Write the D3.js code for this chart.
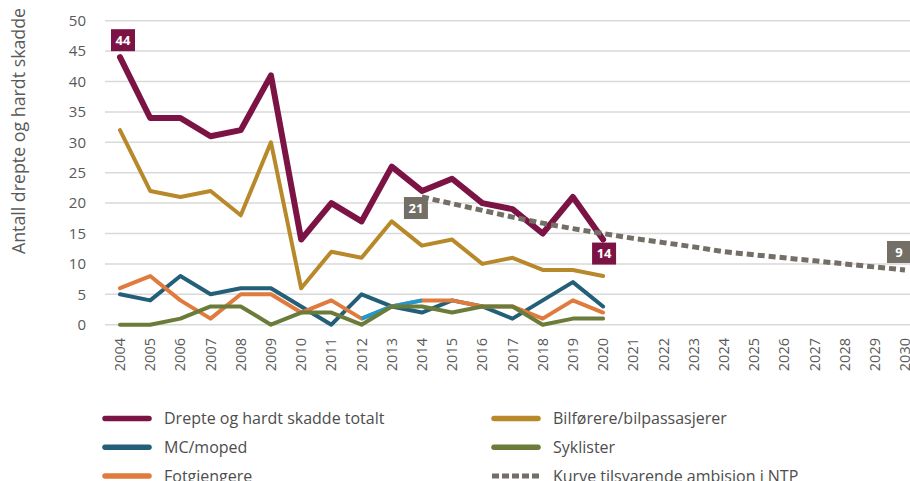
<!DOCTYPE html>
<html>
<head>
<meta charset="utf-8">
<script src="https://cdn.jsdelivr.net/npm/d3@7"></script>
<style>
  body { margin: 0; background: #fff; }
  svg { display: block; font-family: "Open Sans", sans-serif; }
  .grid line { stroke: #d9d9d9; stroke-width: 1.5; }
</style>
</head>
<body>
<svg width="910" height="481"></svg>
<script>
var years = d3.range(2004, 2031);
var dataYears = d3.range(2004, 2021);
var yTicks = [0, 5, 10, 15, 20, 25, 30, 35, 40, 45, 50];

var totalt      = [44, 34, 34, 31, 32, 41, 14, 20, 17, 26, 22, 24, 20, 19, 15, 21, 14];
var bilforere   = [32, 22, 21, 22, 18, 30, 6, 12, 11, 17, 13, 14, 10, 11, 9, 9, 8];
var mcMoped     = [5, 4, 8, 5, 6, 6, 3, 0, 5, 3, 2, 4, 3, 1, 4, 7, 3];
var syklister   = [0, 0, 1, 3, 3, 0, 2, 2, 0, 3, 3, 2, 3, 3, 0, 1, 1];
var fotgjengere = [6, 8, 4, 1, 5, 5, 2, 4, 1, 3, 4, 4, 3, 3, 1, 4, 2];
var fotgjBlaaAar = [2012, 2013, 2014];

var ntpYears = d3.range(2014, 2031);
var ntpKurve = [21, 19.9, 18.8, 17.7, 16.7, 15.8, 15.0, 14.2, 13.5, 12.8, 12.0, 11.5, 11.0, 10.5, 10.0, 9.5, 9.0];

var svg = d3.select("svg");

var x = d3.scalePoint().domain(years).range([120, 905]);
var y = d3.scaleLinear().domain([0, 50]).range([324.7, 20.7]);

// grid + y ticks
var gy = svg.append("g").attr("class", "grid");
gy.selectAll("line").data(yTicks).enter().append("line")
    .attr("x1", 105).attr("x2", 910)
    .attr("y1", function(d) { return y(d); })
    .attr("y2", function(d) { return y(d); });

svg.append("g").selectAll("text").data(yTicks).enter().append("text")
    .attr("x", 86)
    .attr("y", function(d) { return y(d); })
    .attr("dy", "0.35em")
    .attr("text-anchor", "end")
    .attr("fill", "#595959")
    .style("font-size", "15px")
    .text(function(d) { return d; });

// x tick labels, rotated
svg.append("g").selectAll("text").data(years).enter().append("text")
    .attr("transform", function(d) { return "translate(" + x(d) + ",338) rotate(-90)"; })
    .attr("dy", "0.35em")
    .attr("text-anchor", "end")
    .attr("fill", "#595959")
    .style("font-size", "14.5px")
    .text(function(d) { return d; });

svg.append("text")
    .attr("transform", "translate(19,131) rotate(-90)")
    .attr("dy", "0.35em")
    .attr("text-anchor", "middle")
    .attr("fill", "#595959")
    .style("font-size", "17.8px")
    .text("Antall drepte og hardt skadde");

function lineFor(xs) {
  return d3.line()
    .x(function(d, i) { return x(xs[i]); })
    .y(function(d) { return y(d); });
}

var series = [
  {name: "Bilførere/bilpassasjerer", values: bilforere, color: "#b8892b", width: 4},
  {name: "MC/moped", values: mcMoped, color: "#235f78", width: 4},
  {name: "Fotgjengere", values: fotgjengere, color: "#e07b3d", width: 4},
  {name: "Syklister", values: syklister, color: "#6b7b39", width: 4},
  {name: "Drepte og hardt skadde totalt", values: totalt, color: "#7c1345", width: 6}
];

series.forEach(function(s) {
  svg.append("path")
    .datum(s.values)
    .attr("fill", "none")
    .attr("stroke", s.color)
    .attr("stroke-width", s.width)
    .attr("stroke-linejoin", "round")
    .attr("stroke-linecap", "round")
    .attr("d", lineFor(dataYears));
  if (s.name === "Fotgjengere") {
    var blaa = fotgjBlaaAar.map(function(a) { return fotgjengere[dataYears.indexOf(a)]; });
    svg.append("path")
      .datum(blaa)
      .attr("fill", "none")
      .attr("stroke", "#1f9ad0")
      .attr("stroke-width", 4)
      .attr("stroke-linejoin", "round")
      .attr("d", lineFor(fotgjBlaaAar));
  }
});

// NTP curve
svg.append("path")
  .datum(ntpKurve)
  .attr("fill", "none")
  .attr("stroke", "#736e66")
  .attr("stroke-width", 5)
  .attr("stroke-dasharray", "7,4")
  .attr("d", lineFor(ntpYears));

// value labels
var labels = [
  {year: 2004, value: 44, color: "#7c1345", dx: 3, dy: -17},
  {year: 2020, value: 14, color: "#7c1345", dx: 1, dy: 14},
  {year: 2014, value: 21, color: "#736e66", dx: -6, dy: 11},
  {year: 2030, value: 9, color: "#736e66", dx: -6, dy: -18}
];
var lg = svg.append("g").selectAll("g").data(labels).enter().append("g")
  .attr("transform", function(d) { return "translate(" + (x(d.year) + d.dx) + "," + (y(d.value) + d.dy) + ")"; });
lg.append("rect")
  .attr("x", -12).attr("y", -11).attr("width", 24).attr("height", 22)
  .attr("fill", function(d) { return d.color; });
lg.append("text")
  .attr("text-anchor", "middle")
  .attr("dy", "0.36em")
  .attr("fill", "#fff")
  .style("font-size", "13px")
  .style("font-weight", "bold")
  .text(function(d) { return d.value; });

// legend
var legend = [
  {label: "Drepte og hardt skadde totalt", color: "#7c1345", col: 0, row: 0},
  {label: "Bilførere/bilpassasjerer", color: "#b8892b", col: 1, row: 0},
  {label: "MC/moped", color: "#235f78", col: 0, row: 1},
  {label: "Syklister", color: "#6b7b39", col: 1, row: 1},
  {label: "Fotgjengere", color: "#e07b3d", col: 0, row: 2},
  {label: "Kurve tilsvarende ambisjon i NTP", color: "#736e66", col: 1, row: 2, dash: true}
];
var colX = [103, 492];
var leg = svg.append("g").selectAll("g").data(legend).enter().append("g")
  .attr("transform", function(d) { return "translate(" + colX[d.col] + "," + (418.5 + d.row * 28.7) + ")"; });
leg.append("line")
  .attr("x1", function(d) { return d.dash ? 0 : 2; })
  .attr("x2", function(d) { return d.dash ? 47 : 46; })
  .attr("stroke", function(d) { return d.color; })
  .attr("stroke-width", function(d) { return d.dash ? 5 : 5.5; })
  .attr("stroke-linecap", function(d) { return d.dash ? "butt" : "round"; })
  .attr("stroke-dasharray", function(d) { return d.dash ? "7,3" : null; });
leg.append("text")
  .attr("x", 61)
  .attr("dy", "0.35em")
  .attr("fill", "#4d4d4d")
  .style("font-size", "16px")
  .text(function(d) { return d.label; });
</script>
</body>
</html>
